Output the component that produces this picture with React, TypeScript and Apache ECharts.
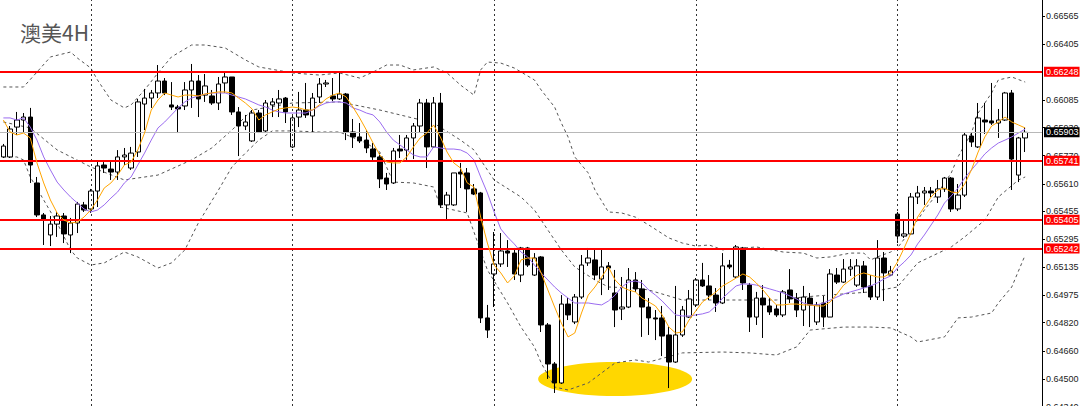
import React, { useEffect, useRef } from 'react';
import * as echarts from 'echarts';

const TITLE = '澳美4H';

// [open, close, low, high]
const CANDLES: number[][] = [
  [0.65763, 0.65825, 0.65757, 0.65837], [0.65763, 0.65922, 0.65757, 0.65939], [0.65933, 0.65973, 0.65888, 0.66019],
  [0.65973, 0.65990, 0.65905, 0.66013], [0.65990, 0.65717, 0.65615, 0.66042], [0.65615, 0.65433, 0.65421, 0.65649],
  [0.65433, 0.65410, 0.65262, 0.65444], [0.65319, 0.65381, 0.65256, 0.65427], [0.65381, 0.65427, 0.65308, 0.65450],
  [0.65427, 0.65325, 0.65273, 0.65444], [0.65319, 0.65387, 0.65216, 0.65416], [0.65387, 0.65495, 0.65330, 0.65507],
  [0.65490, 0.65461, 0.65450, 0.65507], [0.65467, 0.65569, 0.65444, 0.65581], [0.65569, 0.65712, 0.65478, 0.65734],
  [0.65717, 0.65700, 0.65672, 0.65734], [0.65694, 0.65677, 0.65632, 0.65734], [0.65677, 0.65763, 0.65632, 0.65802],
  [0.65763, 0.65774, 0.65717, 0.65814], [0.65700, 0.65785, 0.65689, 0.65820], [0.65791, 0.66076, 0.65763, 0.66093],
  [0.66064, 0.66098, 0.65916, 0.66150], [0.66098, 0.66127, 0.66042, 0.66144], [0.66127, 0.66195, 0.66098, 0.66286],
  [0.66195, 0.66127, 0.66115, 0.66212], [0.66059, 0.66047, 0.66030, 0.66189], [0.66047, 0.66036, 0.65899, 0.66059],
  [0.66053, 0.66144, 0.66030, 0.66189], [0.66144, 0.66195, 0.66042, 0.66292], [0.66195, 0.66093, 0.65990, 0.66229],
  [0.66115, 0.66167, 0.66076, 0.66235], [0.66110, 0.66070, 0.66059, 0.66144], [0.66070, 0.66178, 0.66030, 0.66218],
  [0.66184, 0.66218, 0.66127, 0.66246], [0.66218, 0.66019, 0.66002, 0.66218], [0.66019, 0.65939, 0.65768, 0.66047],
  [0.65939, 0.65962, 0.65916, 0.66002], [0.65854, 0.66013, 0.65848, 0.66030], [0.66013, 0.65905, 0.65899, 0.66030],
  [0.65911, 0.66070, 0.65905, 0.66087], [0.66059, 0.66076, 0.65990, 0.66098], [0.66070, 0.66093, 0.65990, 0.66144],
  [0.66098, 0.66019, 0.65956, 0.66104], [0.65820, 0.65985, 0.65814, 0.65996], [0.65990, 0.66030, 0.65933, 0.66133],
  [0.66030, 0.66002, 0.65985, 0.66184], [0.65996, 0.66098, 0.65905, 0.66127], [0.66104, 0.66178, 0.66070, 0.66212],
  [0.66178, 0.66184, 0.66161, 0.66201], [0.66110, 0.66093, 0.66081, 0.66212], [0.66093, 0.66121, 0.66087, 0.66246],
  [0.66121, 0.65905, 0.65859, 0.66127], [0.65905, 0.65877, 0.65814, 0.65979], [0.65877, 0.65854, 0.65842, 0.65956],
  [0.65859, 0.65814, 0.65785, 0.65916], [0.65808, 0.65763, 0.65746, 0.65842], [0.65763, 0.65638, 0.65586, 0.65785],
  [0.65643, 0.65609, 0.65575, 0.65672], [0.65615, 0.65797, 0.65609, 0.65814], [0.65808, 0.65797, 0.65757, 0.65888],
  [0.65802, 0.65871, 0.65746, 0.65888], [0.65871, 0.65939, 0.65751, 0.65956], [0.65939, 0.66070, 0.65905, 0.66093],
  [0.66070, 0.65820, 0.65700, 0.66093], [0.65820, 0.66070, 0.65814, 0.66104], [0.66070, 0.65490, 0.65473, 0.66127],
  [0.65490, 0.65546, 0.65404, 0.65564], [0.65490, 0.65672, 0.65484, 0.65672], [0.65677, 0.65666, 0.65586, 0.65729],
  [0.65672, 0.65581, 0.65450, 0.65700], [0.65581, 0.65552, 0.65546, 0.65609], [0.65558, 0.64847, 0.64818, 0.65564],
  [0.64847, 0.64778, 0.64733, 0.64921], [0.65097, 0.65154, 0.64909, 0.65336], [0.65154, 0.65228, 0.65137, 0.65330],
  [0.65228, 0.65216, 0.65137, 0.65290], [0.65216, 0.65097, 0.65063, 0.65245], [0.65091, 0.65245, 0.65051, 0.65251],
  [0.65245, 0.65148, 0.65137, 0.65251], [0.65091, 0.65188, 0.65086, 0.65216], [0.65194, 0.64807, 0.64767, 0.65199],
  [0.64807, 0.64585, 0.64500, 0.64818], [0.64585, 0.64477, 0.64420, 0.64596], [0.64477, 0.64926, 0.64471, 0.64977],
  [0.64926, 0.64864, 0.64835, 0.64960], [0.64824, 0.64966, 0.64812, 0.64983], [0.64966, 0.65148, 0.64955, 0.65205],
  [0.65160, 0.65188, 0.65143, 0.65245], [0.65177, 0.65091, 0.65063, 0.65239], [0.65069, 0.65137, 0.64977, 0.65234],
  [0.65143, 0.65131, 0.65006, 0.65165], [0.64989, 0.64892, 0.64795, 0.65120], [0.64898, 0.64909, 0.64835, 0.65080],
  [0.64909, 0.65063, 0.64903, 0.65131], [0.65063, 0.65012, 0.64995, 0.65108], [0.65012, 0.64909, 0.64739, 0.65063],
  [0.64909, 0.64847, 0.64750, 0.64960], [0.64847, 0.64841, 0.64721, 0.64892], [0.64847, 0.64744, 0.64630, 0.64915],
  [0.64750, 0.64596, 0.64448, 0.64795], [0.64596, 0.64750, 0.64591, 0.65029], [0.64750, 0.64892, 0.64739, 0.64915],
  [0.64852, 0.64955, 0.64847, 0.65006], [0.64921, 0.65063, 0.64909, 0.65074], [0.65063, 0.65029, 0.65023, 0.65160],
  [0.65029, 0.64977, 0.64949, 0.65091], [0.64977, 0.64932, 0.64881, 0.65017], [0.64932, 0.65143, 0.64926, 0.65216],
  [0.65148, 0.65137, 0.65125, 0.65177], [0.65080, 0.65251, 0.65074, 0.65262], [0.65245, 0.65046, 0.65006, 0.65251],
  [0.65034, 0.64852, 0.64767, 0.65046], [0.64852, 0.64960, 0.64807, 0.64995], [0.64960, 0.64921, 0.64733, 0.65034],
  [0.64915, 0.64881, 0.64864, 0.64960], [0.64898, 0.64864, 0.64852, 0.64921], [0.64864, 0.64995, 0.64852, 0.65006],
  [0.65006, 0.64955, 0.64932, 0.65125], [0.64960, 0.64892, 0.64852, 0.64989], [0.64892, 0.64966, 0.64801, 0.65029],
  [0.64960, 0.64921, 0.64795, 0.64989], [0.64824, 0.64921, 0.64807, 0.64938], [0.64932, 0.64852, 0.64795, 0.64972],
  [0.64852, 0.65097, 0.64852, 0.65125], [0.65091, 0.65051, 0.65040, 0.65131], [0.65051, 0.65125, 0.65046, 0.65182],
  [0.65125, 0.65137, 0.65086, 0.65182], [0.65034, 0.65143, 0.65023, 0.65182], [0.65143, 0.65023, 0.64989, 0.65171],
  [0.65029, 0.64966, 0.64949, 0.65091], [0.64966, 0.65188, 0.64949, 0.65290], [0.65188, 0.65103, 0.64943, 0.65222],
  [0.65091, 0.65114, 0.65086, 0.65143], [0.65438, 0.65313, 0.65273, 0.65450], [0.65313, 0.65325, 0.65302, 0.65410],
  [0.65325, 0.65535, 0.65319, 0.65558], [0.65535, 0.65558, 0.65495, 0.65598], [0.65558, 0.65569, 0.65490, 0.65592],
  [0.65569, 0.65558, 0.65535, 0.65592], [0.65535, 0.65581, 0.65501, 0.65632], [0.65581, 0.65643, 0.65564, 0.65649],
  [0.65643, 0.65467, 0.65450, 0.65649], [0.65467, 0.65546, 0.65455, 0.65609], [0.65546, 0.65888, 0.65535, 0.65905],
  [0.65882, 0.65848, 0.65820, 0.65905], [0.65820, 0.65985, 0.65814, 0.66070], [0.65973, 0.65962, 0.65894, 0.66070],
  [0.65968, 0.65956, 0.65945, 0.66184], [0.65956, 0.65973, 0.65871, 0.66036], [0.65973, 0.66127, 0.65968, 0.66133],
  [0.66127, 0.65751, 0.65575, 0.66144], [0.65660, 0.65871, 0.65620, 0.65877], [0.65871, 0.65903, 0.65791, 0.65933],
];

const EMPTY_BARS_RIGHT = 2;

const MA_FAST: number[] = [
  0.65973, 0.65905, 0.65888, 0.65899, 0.65871, 0.65729, 0.65615, 0.65518, 0.65444, 0.65404,
  0.65387, 0.65393, 0.65421, 0.65461, 0.65518, 0.65586, 0.65615, 0.65660, 0.65717, 0.65734,
  0.65803, 0.65899, 0.66030, 0.66087, 0.66127, 0.66115, 0.66104, 0.66115, 0.66115, 0.66110,
  0.66121, 0.66127, 0.66133, 0.66133, 0.66127, 0.66098, 0.66070, 0.66036, 0.65973, 0.66002,
  0.66019, 0.66036, 0.66042, 0.66047, 0.66042, 0.66030, 0.66030, 0.66059, 0.66093, 0.66115,
  0.66127, 0.66104, 0.66047, 0.65985, 0.65916, 0.65842, 0.65774, 0.65734, 0.65729, 0.65729,
  0.65763, 0.65820, 0.65871, 0.65899, 0.65945, 0.65877, 0.65791, 0.65729, 0.65700, 0.65615,
  0.65592, 0.65421, 0.65273, 0.65148, 0.65103, 0.65046, 0.65086, 0.65177, 0.65188, 0.65188,
  0.65103, 0.65006, 0.64909, 0.64818, 0.64739, 0.64761, 0.64875, 0.64977, 0.65023, 0.65080,
  0.65137, 0.65063, 0.65023, 0.65006, 0.64995, 0.64960, 0.64938, 0.64915, 0.64864, 0.64795,
  0.64761, 0.64767, 0.64835, 0.64887, 0.64938, 0.64966, 0.64995, 0.65029, 0.65051, 0.65074,
  0.65097, 0.65080, 0.65046, 0.65006, 0.64960, 0.64921, 0.64921, 0.64926, 0.64926, 0.64921,
  0.64921, 0.64915, 0.64915, 0.64938, 0.64983, 0.65034, 0.65063, 0.65091, 0.65103, 0.65091,
  0.65080, 0.65080, 0.65103, 0.65165, 0.65245, 0.65330, 0.65421, 0.65478, 0.65535, 0.65575,
  0.65586, 0.65564, 0.65558, 0.65609, 0.65689, 0.65791, 0.65877, 0.65939, 0.65962, 0.65990,
  0.65962, 0.65945, 0.65928,
];

const MA_SLOW: number[] = [
  0.65985, 0.65985, 0.65973, 0.65985, 0.65933, 0.65859, 0.65763, 0.65689, 0.65620, 0.65575,
  0.65535, 0.65501, 0.65467, 0.65450, 0.65461, 0.65490, 0.65529, 0.65564, 0.65615, 0.65649,
  0.65717, 0.65785, 0.65859, 0.65928, 0.65962, 0.66002, 0.66042, 0.66076, 0.66098, 0.66110,
  0.66121, 0.66127, 0.66127, 0.66127, 0.66115, 0.66104, 0.66093, 0.66076, 0.66059, 0.66047,
  0.66030, 0.66019, 0.66013, 0.66013, 0.66013, 0.66013, 0.66030, 0.66053, 0.66070, 0.66076,
  0.66076, 0.66070, 0.66042, 0.66030, 0.66013, 0.66002, 0.65962, 0.65905, 0.65859, 0.65831,
  0.65803, 0.65774, 0.65763, 0.65763, 0.65820, 0.65814, 0.65808, 0.65808, 0.65803, 0.65785,
  0.65746, 0.65649, 0.65558, 0.65450, 0.65353, 0.65307, 0.65268, 0.65222, 0.65194, 0.65148,
  0.65103, 0.65063, 0.65023, 0.64989, 0.64960, 0.64932, 0.64932, 0.64932, 0.64926, 0.64921,
  0.64943, 0.64977, 0.65023, 0.65051, 0.65057, 0.65046, 0.65006, 0.64977, 0.64943, 0.64903,
  0.64864, 0.64858, 0.64858, 0.64864, 0.64870, 0.64881, 0.64915, 0.64960, 0.64995, 0.65029,
  0.65040, 0.65040, 0.65034, 0.65023, 0.65012, 0.65001, 0.64989, 0.64972, 0.64955, 0.64932,
  0.64921, 0.64921, 0.64932, 0.64949, 0.64966, 0.64983, 0.64995, 0.65006, 0.65017, 0.65029,
  0.65046, 0.65069, 0.65086, 0.65131, 0.65165, 0.65205, 0.65268, 0.65319, 0.65376, 0.65433,
  0.65501, 0.65541, 0.65586, 0.65643, 0.65689, 0.65734, 0.65780, 0.65814, 0.65842, 0.65859,
  0.65877, 0.65899, 0.65922,
];

// Bollinger bands, read as [bar index, price] vertices
const BB_UPPER: number[][] = [
  [0, 0.66161], [3, 0.66161], [5, 0.66246], [7, 0.66332], [10, 0.66360], [11, 0.66326], [13, 0.66269],
  [14, 0.66201], [16, 0.66087], [18, 0.66042], [19, 0.66059], [21, 0.66144], [23, 0.66241], [25, 0.66332],
  [28, 0.66400], [30, 0.66400], [33, 0.66383], [36, 0.66315], [38, 0.66275], [43, 0.66241], [47, 0.66229],
  [50, 0.66241], [53, 0.66212], [55, 0.66246], [57, 0.66286], [59, 0.66286], [61, 0.66258], [64, 0.66275],
  [66, 0.66241], [68, 0.66172], [70, 0.66115], [71, 0.66258], [72, 0.66303], [74, 0.66297], [76, 0.66269],
  [79, 0.66201], [80, 0.66144], [82, 0.66047], [83, 0.65956], [84, 0.65877], [85, 0.65763], [87, 0.65672],
  [88, 0.65575], [90, 0.65450], [92, 0.65444], [94, 0.65421], [96, 0.65376], [99, 0.65302], [101, 0.65273],
  [103, 0.65256], [105, 0.65262], [107, 0.65234], [112, 0.65251], [116, 0.65222], [119, 0.65216], [121, 0.65188],
  [123, 0.65194], [126, 0.65216], [128, 0.65216], [129, 0.65177], [130, 0.65194], [132, 0.65222], [133, 0.65245],
  [135, 0.65347], [137, 0.65461], [139, 0.65558], [141, 0.65672], [142, 0.65763], [144, 0.65899], [145, 0.66013],
  [147, 0.66127], [148, 0.66201], [150, 0.66218], [152, 0.66189],
];

const BB_MIDDLE: number[][] = [
  [0, 0.65962], [4, 0.65928], [8, 0.65803], [13, 0.65706], [18, 0.65632], [23, 0.65660], [28, 0.65746],
  [31, 0.65814], [34, 0.65916], [37, 0.66030], [43, 0.66070], [50, 0.66076], [56, 0.66030], [64, 0.65956],
  [68, 0.65859], [70, 0.65803], [73, 0.65632], [77, 0.65535], [79, 0.65461], [81, 0.65347], [83, 0.65234],
  [85, 0.65137], [88, 0.65063], [90, 0.65023], [94, 0.65017], [96, 0.65006], [101, 0.64949], [107, 0.64949],
  [115, 0.64949], [119, 0.64966], [123, 0.64978], [129, 0.64995], [133, 0.65023], [136, 0.65160], [141, 0.65251],
  [143, 0.65308], [146, 0.65404], [148, 0.65535], [151, 0.65632], [152, 0.65649],
];

const BB_LOWER: number[][] = [
  [0, 0.65763], [2, 0.65763], [3, 0.65746], [4, 0.65649], [8, 0.65387], [10, 0.65234], [11, 0.65188],
  [13, 0.65148], [15, 0.65160], [18, 0.65222], [20, 0.65194], [23, 0.65131], [25, 0.65160], [27, 0.65234],
  [29, 0.65387], [32, 0.65575], [34, 0.65706], [36, 0.65785], [38, 0.65859], [40, 0.65911], [43, 0.65911],
  [47, 0.65905], [50, 0.65905], [54, 0.65842], [56, 0.65791], [58, 0.65620], [61, 0.65615], [64, 0.65592],
  [65, 0.65478], [69, 0.65444], [72, 0.65120], [75, 0.64932], [77, 0.64795], [79, 0.64682], [80, 0.64591],
  [82, 0.64454], [84, 0.64437], [87, 0.64477], [89, 0.64534], [91, 0.64591], [94, 0.64608], [96, 0.64596],
  [101, 0.64648], [107, 0.64653], [111, 0.64648], [115, 0.64636], [118, 0.64682], [120, 0.64778], [125, 0.64795],
  [129, 0.64795], [132, 0.64790], [135, 0.64739], [136, 0.64710], [140, 0.64739], [142, 0.64847], [144, 0.64852],
  [147, 0.64875], [148, 0.64932], [150, 0.65023], [152, 0.65205],
];

const Y_TICKS = [
  0.66565, 0.66405, 0.66085, 0.6593, 0.6577, 0.6561, 0.65455, 0.65295, 0.65135,
  0.64975, 0.6482, 0.6466, 0.645, 0.6434,
];
const RED_LEVELS = [0.66248, 0.65741, 0.65405, 0.65242];
const CURRENT_PRICE = 0.65903;
const WEEK_START_BARS = [13, 43, 73, 103, 133];
const HIGHLIGHT_BAR = 90.5;
const HIGHLIGHT_PRICE = 0.645;

const Y_MAX = 0.66656;
const Y_MIN = 0.64289;

export default function App() {
  const ref = useRef<HTMLDivElement>(null);

  useEffect(() => {
    if (!ref.current) return;
    const chart = echarts.init(ref.current, undefined, { renderer: 'svg' });
    const categories = Array.from({ length: CANDLES.length + EMPTY_BARS_RIGHT }, (_, i) => String(i));
    const labelFont = 'Liberation Sans, Arial, sans-serif';

    const levelLabel = (bg: string, v: number) => ({
      show: true,
      position: 'end',
      distance: 2,
      formatter: v.toFixed(5),
      color: '#ffffff',
      backgroundColor: bg,
      padding: [1, 1, 0, 2],
      fontSize: 9,
      fontFamily: labelFont,
    });

    const bbStyle = { color: '#555555', width: 1, type: [3, 3] as any };

    chart.setOption({
      animation: false,
      backgroundColor: '#ffffff',
      grid: {
        left: 0,
        top: 0,
        width: 1042,
        height: 416,
        containLabel: false,
        outerBoundsMode: 'none',
      },
      xAxis: {
        type: 'category',
        data: categories,
        boundaryGap: true,
        axisLine: { show: false },
        axisTick: { show: false },
        axisLabel: { show: false },
        splitLine: { show: false },
      },
      yAxis: {
        type: 'value',
        position: 'right',
        min: Y_MIN,
        max: Y_MAX,
        splitLine: { show: false },
        axisLine: { show: true, lineStyle: { color: '#000000', width: 1 } },
        axisTick: { show: true, length: 3, customValues: Y_TICKS, lineStyle: { color: '#000000' } },
        axisLabel: {
          customValues: Y_TICKS,
          formatter: (v: number) => v.toFixed(5),
          fontSize: 9,
          color: '#222222',
          margin: 4,
          fontFamily: labelFont,
        },
      },
      series: [
        {
          name: 'BB upper', type: 'line', data: BB_UPPER, symbol: 'none', silent: true, z: 2,
          lineStyle: bbStyle,
        },
        {
          name: 'BB middle', type: 'line', data: BB_MIDDLE, symbol: 'none', silent: true, z: 2,
          lineStyle: bbStyle,
        },
        {
          name: 'BB lower', type: 'line', data: BB_LOWER, symbol: 'none', silent: true, z: 2,
          lineStyle: bbStyle,
        },
        {
          name: 'AUDUSD H4',
          type: 'candlestick',
          data: CANDLES,
          barWidth: 5,
          z: 3,
          itemStyle: {
            color: '#ffffff',
            color0: '#000000',
            borderColor: '#000000',
            borderColor0: '#000000',
            borderWidth: 1,
          },
          markLine: {
            silent: true,
            symbol: ['none', 'none'],
            precision: 5,
            animation: false,
            data: [
              ...WEEK_START_BARS.map((i) => ({
                xAxis: String(i),
                lineStyle: { color: '#333333', width: 1, type: [2, 3] },
                label: { show: false },
              })),
              {
                yAxis: CURRENT_PRICE,
                lineStyle: { color: '#b8b8b8', width: 1, type: 'solid' },
                label: levelLabel('#000000', CURRENT_PRICE),
              },
              ...RED_LEVELS.map((v) => ({
                yAxis: v,
                lineStyle: { color: '#ff0000', width: 2, type: 'solid' },
                label: levelLabel('#ff0000', v),
              })),
            ],
          },
        },
        {
          name: 'MA slow', type: 'line', data: MA_SLOW, symbol: 'none', silent: true, z: 4,
          lineStyle: { color: '#9b6cf0', width: 1 },
        },
        {
          name: 'MA fast', type: 'line', data: MA_FAST, symbol: 'none', silent: true, z: 5,
          lineStyle: { color: '#ffa500', width: 1 },
        },
      ],
    });

    let c = chart.convertToPixel({ xAxisIndex: 0, yAxisIndex: 0 }, [HIGHLIGHT_BAR, HIGHLIGHT_PRICE]) as number[];
    if (!c || isNaN(c[0]) || isNaN(c[1])) {
      c = chart.convertToPixel({ xAxisIndex: 0, yAxisIndex: 0 }, [Math.round(HIGHLIGHT_BAR), HIGHLIGHT_PRICE]) as number[];
    }

    chart.setOption({
      graphic: [
        {
          type: 'ellipse',
          z: 0,
          silent: true,
          shape: { cx: c[0], cy: c[1], rx: 77, ry: 17 },
          style: { fill: '#ffd700' },
        },
        {
          type: 'text',
          left: 20,
          top: 21,
          silent: true,
          style: {
            text: TITLE,
            fontSize: 21,
            fill: '#555555',
            fontFamily: 'Noto Sans CJK SC, sans-serif',
          },
        },
      ],
    });

    return () => chart.dispose();
  }, []);

  return (
    <div
      ref={ref}
      style={{ position: 'fixed', left: 0, top: 0, width: 1080, height: 406, background: '#fff' }}
    />
  );
}
